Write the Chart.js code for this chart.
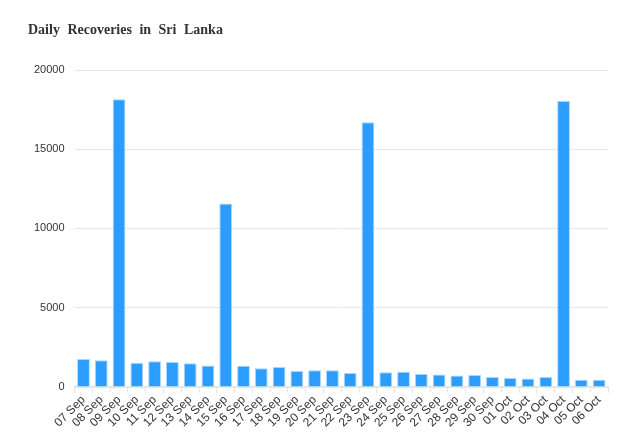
<!DOCTYPE html>
<html>
<head>
<meta charset="utf-8">
<script src="https://cdn.jsdelivr.net/npm/chart.js@4"></script>
<style>
  html, body { margin: 0; padding: 0; background: #fff; }
  #wrap { position: relative; width: 634px; height: 442px; }
  #title { position: absolute; left: 28px; top: 22px; font-family: "Liberation Serif", "Times New Roman", serif; font-weight: bold; font-size: 14px; color: #333; word-spacing: 4px; }
  #c { position: absolute; left: 0; top: 0; }
</style>
</head>
<body>
<div id="wrap">
  <canvas id="c" width="634" height="442"></canvas>
  <div id="title">Daily Recoveries in Sri Lanka</div>
</div>
<script>
const categories = ["07 Sep","08 Sep","09 Sep","10 Sep","11 Sep","12 Sep","13 Sep","14 Sep","15 Sep","16 Sep","17 Sep","18 Sep","19 Sep","20 Sep","21 Sep","22 Sep","23 Sep","24 Sep","25 Sep","26 Sep","27 Sep","28 Sep","29 Sep","30 Sep","01 Oct","02 Oct","03 Oct","04 Oct","05 Oct","06 Oct"];
const recoveries = [1770,1690,18150,1520,1620,1580,1500,1350,11580,1330,1180,1260,1000,1060,1060,880,16700,920,960,820,780,720,760,620,570,530,630,18050,460,460];
const yTicks = [0,5000,10000,15000,20000];

new Chart(document.getElementById('c'), {
  type: 'bar',
  data: {
    labels: categories,
    datasets: [{
      label: 'Recoveries',
      data: recoveries,
      backgroundColor: '#2a9dfe',
      borderColor: '#a9d5ff',
      borderWidth: 1,
      barPercentage: 0.9,
      categoryPercentage: 0.8
    }]
  },
  options: {
    responsive: false,
    animation: false,
    layout: { padding: { left: 24, right: 26, top: 70, bottom: 12 } },
    plugins: { legend: { display: false }, title: { display: false }, tooltip: { enabled: false } },
    scales: {
      x: {
        grid: { drawOnChartArea: false, drawTicks: true, tickLength: 6, color: '#e6e6e6', lineWidth: 1 },
        border: { color: '#e6e6e6', width: 2 },
        ticks: { color: '#333', font: { family: 'Liberation Sans, Arial, sans-serif', size: 12 }, maxRotation: 45, minRotation: 45, autoSkip: false, padding: 0 }
      },
      y: {
        min: 0, max: 20000,
        afterBuildTicks: (axis) => { axis.ticks = yTicks.map(v => ({ value: v })); },
        grid: { color: '#e6e6e6', drawTicks: false, lineWidth: 1 },
        border: { display: false },
        ticks: { color: '#333', font: { family: 'Liberation Sans, Arial, sans-serif', size: 11 }, padding: 10, callback: (v) => String(v) }
      }
    }
  }
});
</script>
</body>
</html>
